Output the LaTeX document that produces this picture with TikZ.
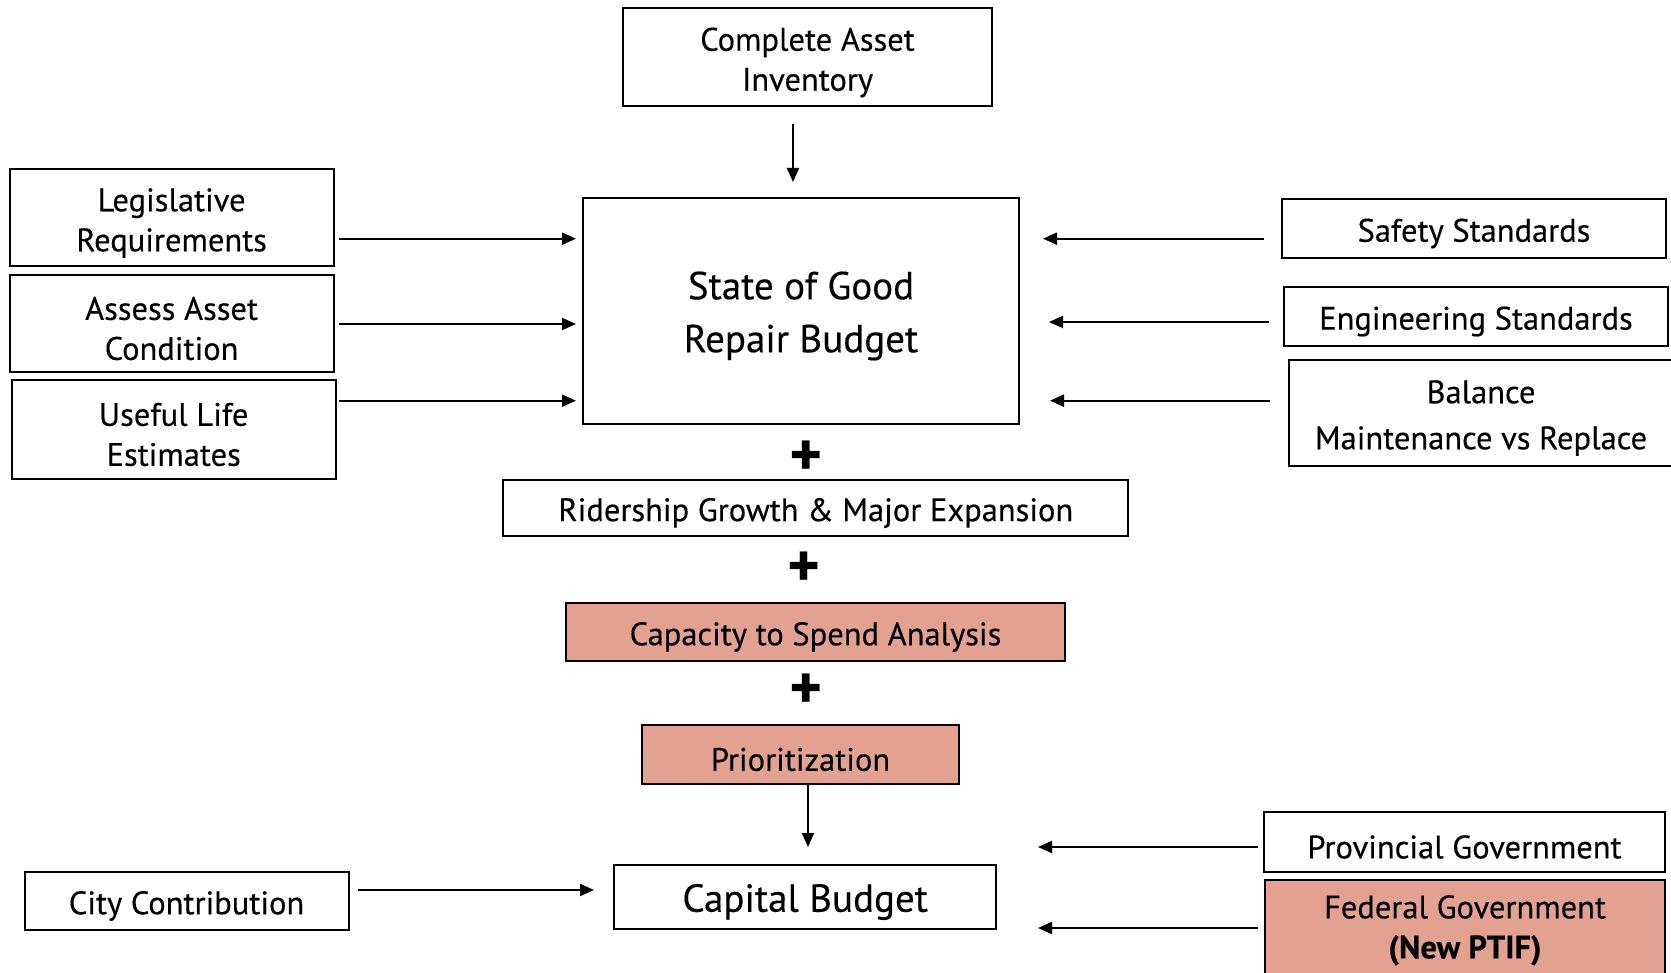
\documentclass[tikz,border=0pt]{standalone}
\usepackage{fontspec}
\setmainfont{PT Sans}[FakeBold=0.3]
\usetikzlibrary{arrows.meta}
\definecolor{salmon}{RGB}{227,161,146}
\tikzset{
  box/.style={draw=black, line width=2pt, inner sep=0pt},
  hot/.style={box, fill=salmon},
  txt/.style={align=center, inner sep=0pt, font=\fontsize{32.5}{40}\selectfont},
  big/.style={txt, font=\fontsize{39}{53}\selectfont},
  arr/.style={-{Triangle[length=14pt,width=12pt]}, line width=2pt},
  plus/.style={font=\fontsize{62}{62}\selectfont\bfseries, inner sep=0pt}
}
% name, cx, cy, w, h, box style, text style, text
\newcommand{\bx}[8]{%
  \node[#6, minimum width=#4pt, minimum height=#5pt] (#1) at (#2,#3) {};
  \node[#7] (#1-t) at ([yshift=-5pt]#1.center) {#8};}
\begin{document}
\begin{tikzpicture}[x=1pt,y=-1pt]
\useasboundingbox (0,0) rectangle (1671,973);
% boxes
\bx{inv}{807.5}{57.5}{369}{98}{box}{txt}{Complete Asset\\Inventory}
\bx{sgr}{801}{311}{436}{226}{box}{big}{State of Good\\Repair Budget}
\bx{leg}{171.6}{218}{324}{97}{box}{txt}{Legislative\\Requirements}
\bx{ass}{171.6}{323.5}{324}{97}{box}{txt}{Assess Asset\\Condition}
\bx{use}{173.7}{429.5}{324}{98}{box}{txt}{Useful Life\\Estimates}
\bx{saf}{1474}{228.5}{384}{59}{box}{txt}{Safety Standards}
\bx{eng}{1476}{316.5}{384}{59}{box}{txt}{Engineering Standards}
\bx{bal}{1481}{413}{384}{106}{box}{txt, font=\fontsize{32.5}{46}\selectfont}{Balance\\Maintenance vs Replace}
\bx{rid}{815.8}{508}{625}{56}{box}{txt}{Ridership Growth \& Major Expansion}
\bx{cap}{815.5}{632}{499}{58}{hot}{txt}{Capacity to Spend Analysis}
\bx{pri}{800.5}{754.5}{317}{59}{hot}{txt}{Prioritization}
\bx{cb}{805.2}{897}{382}{64}{box}{big}{Capital Budget}
\bx{city}{186.5}{901}{324}{58}{box}{txt}{City Contribution}
\bx{prov}{1464.5}{842}{401}{60}{box}{txt}{Provincial Government}
\node[hot, minimum width=400pt, minimum height=110pt, anchor=north] (fed) at (1465,879) {};
\node[txt, anchor=north] (fed-t) at (1465,895) {Federal Government\\\textbf{(New PTIF)}};
% plus signs
\node[plus] (p1) at (805.7,458) {+};
\node[plus] (p2) at (803.5,569) {+};
\node[plus] (p3) at (805.7,691) {+};
% connector endpoints
\coordinate (a1) at (793,123.6); \coordinate (b1) at (793,182);
\coordinate (a2) at (339,238.7); \coordinate (b2) at (576,238.7);
\coordinate (a3) at (339,324); \coordinate (b3) at (576,324);
\coordinate (a4) at (339,400.7); \coordinate (b4) at (576,400.7);
\coordinate (a5) at (1264,238.7); \coordinate (b5) at (1043,238.7);
\coordinate (a6) at (1269,322); \coordinate (b6) at (1049,322);
\coordinate (a7) at (1270,400.7); \coordinate (b7) at (1050,400.7);
\coordinate (a8) at (808,784); \coordinate (b8) at (808,847);
\coordinate (a9) at (358,890); \coordinate (b9) at (594,890);
\coordinate (a10) at (1257.5,847); \coordinate (b10) at (1038,847);
\coordinate (a11) at (1257.5,928); \coordinate (b11) at (1038,928);
\foreach \i in {1,...,11} \draw[arr] (a\i) -- (b\i);
\end{tikzpicture}
\end{document}
